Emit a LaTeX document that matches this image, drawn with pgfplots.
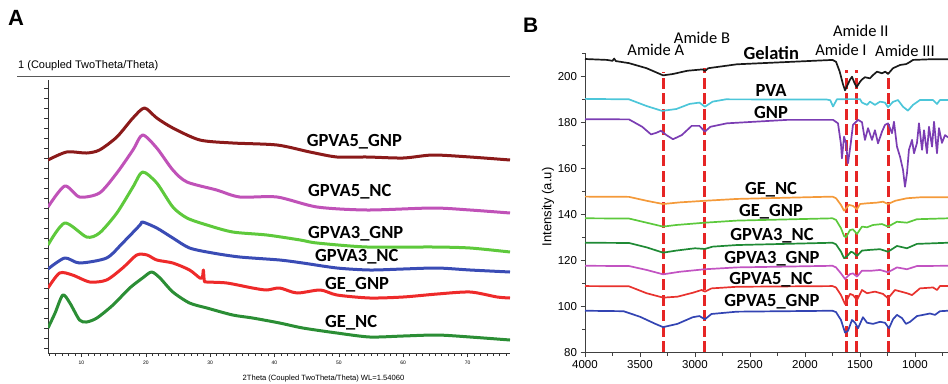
\documentclass[border=0pt]{standalone}
\usepackage{pgfplots}
\pgfplotsset{compat=1.18}
\usepackage{fontspec}
\setmainfont{Carlito}
\newfontfamily\arial{Liberation Sans}
\definecolor{aGvg}{HTML}{8B1A1A}
\definecolor{aGvn}{HTML}{C052B8}
\definecolor{aG3g}{HTML}{5EC93C}
\definecolor{aG3n}{HTML}{3A4CB5}
\definecolor{aGeg}{HTML}{EE2A2A}
\definecolor{aGen}{HTML}{2B8E35}
\definecolor{bgel}{HTML}{1A1A1A}
\definecolor{bpva}{HTML}{4CC6D9}
\definecolor{bgnp}{HTML}{7B3DB3}
\definecolor{bor}{HTML}{F49A3A}
\definecolor{blg}{HTML}{5CC93C}
\definecolor{bdg}{HTML}{1F8A35}
\definecolor{bmg}{HTML}{C253C2}
\definecolor{brd}{HTML}{E8322E}
\definecolor{bbl}{HTML}{3344B3}
\definecolor{dashred}{HTML}{E62525}
\begin{document}
\begin{tikzpicture}[x=1pt,y=1pt]
\useasboundingbox (0,0) rectangle (948,-383);
\coordinate (Asw) at (48,-353);
\coordinate (Bsw) at (585,-352.7);
% ---------------- Panel A ----------------
\node[anchor=base west, inner sep=0, font=\arial\bfseries\fontsize{22}{22}\selectfont] at (8,-25) {A};
\node[anchor=base west, inner sep=0, font=\arial\fontsize{11}{11}\selectfont] at (18,-68) {1 (Coupled TwoTheta/Theta)};
\draw[black!65, line width=0.9pt] (17,-76) -- (510,-76);
\begin{axis}[
  at={(Asw)}, anchor=south west,
  width=462pt, height=273pt, scale only axis,
  xmin=4.8, xmax=76.6, ymin=30, ymax=303,
  axis x line=bottom, axis y line=left,
  axis line style={-, line width=1pt, black!80},
  xtick={10,20,...,70}, minor xtick={5,6,...,76},
  ytick={35,45,...,295}, yticklabels={},
  tick align=outside, major tick length=4pt, minor tick length=2.5pt,
  tick style={black!80, line width=0.6pt},
  x tick label style={font=\arial\fontsize{5}{5}\selectfont},
  /pgf/number format/assume math mode=true,
  every axis plot/.append style={line width=3pt, line join=round, smooth, tension=0.45},
]
\addplot[aGvg] coordinates {(4.8,223) (7.7,231) (10.8,230) (12.8,233) (15.5,246) (18.0,265) (19.8,275) (21.7,265) (24.2,255) (28.4,243) (33.5,240) (40.4,238) (45.5,231) (49.7,226) (54.4,226) (60.0,225) (64.6,228) (70.4,226) (76.6,223)};
\addplot[aGvn] coordinates {(4.8,176) (7.4,197) (9.7,186) (12.8,190) (15.5,210) (18.0,233) (19.5,248) (21.7,235) (24.2,213) (26.4,201) (31.0,193) (34.6,186) (40.4,186) (46.6,176) (54.4,173) (64.6,175) (70.4,173) (76.6,170)};
\addplot[aG3g] coordinates {(4.8,138) (7.4,160) (10.8,146) (12.8,150) (15.5,170) (18.0,196) (19.5,211) (21.7,200) (24.2,176) (26.4,165) (29.5,158) (33.5,151) (38.8,148) (44.0,143) (46.6,140) (54.4,136) (64.6,136) (70.4,135) (76.6,131)};
\addplot[aG3n] coordinates {(4.8,114) (7.4,125) (9.7,120) (13.9,125) (16.4,140) (19.1,158) (19.5,161) (21.7,155) (24.2,145) (26.8,135) (30.4,130) (34.6,126) (40.8,123) (44.4,120) (49.7,115) (54.8,113) (60.0,114) (65.3,115) (70.4,113) (76.6,111)};
\addplot[aGeg] coordinates {(4.8,95) (6.6,110) (8.6,108) (11.3,101) (13.9,103) (16.4,115) (18.6,128) (20.2,128) (21.7,123) (24.2,120) (26.8,113) (28.4,105) (28.8,106) (28.95,113) (29.1,102) (29.5,101) (32.6,100) (36.6,95) (38.8,93) (40.8,95) (43.5,90) (47.1,93) (49.7,88) (54.8,85) (60.0,86) (65.3,89) (70.4,91) (74.6,86) (76.6,85)};
\addplot[aGen] coordinates {(4.8,55) (5.9,70) (7.1,88) (8.2,80) (9.7,63) (10.8,61) (12.4,65) (14.9,78) (17.5,95) (19.5,105) (20.9,111) (22.2,105) (24.2,91) (26.8,80) (29.5,75) (33.5,68) (36.6,65) (40.8,60) (44.4,55) (49.7,50) (54.8,46) (60.0,47) (65.3,48) (70.4,46) (76.6,43)};
\end{axis}
\begin{scope}[font=\bfseries\fontsize{18.5}{18.5}\selectfont]
\node[anchor=base west, inner sep=0] at (306.7,-146) {GPVA5\_GNP};
\node[anchor=base west, inner sep=0] at (308,-196.7) {GPVA5\_NC};
\node[anchor=base west, inner sep=0] at (308,-238.3) {GPVA3\_GNP};
\node[anchor=base west, inner sep=0] at (315,-261.7) {GPVA3\_NC};
\node[anchor=base west, inner sep=0] at (325,-289.3) {GE\_GNP};
\node[anchor=base west, inner sep=0] at (325,-327.3) {GE\_NC};
\end{scope}
\node[font=\arial\fontsize{7.6}{7.6}\selectfont, inner sep=0] at (323.5,-379) {2Theta (Coupled TwoTheta/Theta) WL=1.54060};
% ---------------- Panel B ----------------
\node[anchor=base west, inner sep=0, font=\arial\bfseries\fontsize{21}{21}\selectfont] at (523,-32) {B};
\begin{axis}[
  at={(Bsw)}, anchor=south west,
  width=363pt, height=299.7pt, scale only axis,
  xmin=700, xmax=4000, x dir=reverse, ymin=80, ymax=210,
  axis x line=bottom, axis y line=left,
  axis line style={-, line width=1pt, black!75},
  xtick={1000,1500,...,4000}, minor xtick={750,1250,...,3750},
  ytick={80,100,...,200}, minor ytick={90,110,...,210},
  tick align=outside, major tick length=4.5pt, minor tick length=3pt,
  tick style={black!75, line width=0.8pt},
  ticklabel style={font=\arial\fontsize{11.5}{12}\selectfont},
  /pgf/number format/assume math mode=true,
  /pgf/number format/1000 sep={},
  clip=false,
  every axis plot/.append style={line width=1.7pt, line join=round},
]
\addplot[dashred, line width=3pt, dash pattern=on 11pt off 4.5pt] coordinates {(3285,80.3) (3285,201.9)};
\addplot[dashred, line width=3pt, dash pattern=on 11pt off 4.5pt] coordinates {(2910,80.3) (2910,203.4)};
\addplot[dashred, line width=3pt, dash pattern=on 11pt off 4.5pt] coordinates {(1625,80.3) (1625,202.6)};
\addplot[dashred, line width=3pt, dash pattern=on 11pt off 4.5pt] coordinates {(1530,80.3) (1530,202.6)};
\addplot[dashred, line width=3pt, dash pattern=on 11pt off 4.5pt] coordinates {(1238,80.3) (1238,201.9)};
\addplot[bgel] coordinates {(4000,207.4) (3800,207.0) (3750,206.6) (3735,207.6) (3720,206.5) (3600,205.6) (3440,203.4) (3290,200.3) (3200,200.9) (3070,202.3) (2930,202.9) (2910,202.2) (2880,203.4) (2620,205.1) (2160,206.1) (1750,207.0) (1718,206.2) (1685,202.0) (1655,196.5) (1636,193.8) (1610,196.5) (1590,198.5) (1573,199.7) (1550,197.0) (1530,195.2) (1500,197.5) (1482,198.5) (1455,199.5) (1410,199.0) (1380,200.5) (1345,201.9) (1300,201.2) (1270,201.9) (1245,200.9) (1200,203.4) (1136,204.8) (1080,205.2) (1050,206.0) (1018,207.0) (850,207.3) (700,207.3)};
\addplot[bpva] coordinates {(4000,190.1) (3600,189.9) (3440,187.0) (3300,184.9) (3170,185.7) (3050,187.9) (2960,188.5) (2910,186.7) (2840,188.9) (2720,189.9) (1800,189.8) (1770,189.5) (1745,186.8) (1710,189.9) (1600,190.0) (1500,190.0) (1482,188.5) (1436,187.5) (1409,188.9) (1364,187.5) (1318,188.9) (1273,188.5) (1245,186.5) (1200,188.8) (1155,189.6) (1109,186.7) (1064,185.0) (1018,187.5) (955,189.6) (836,189.6) (800,187.9) (773,189.6) (700,189.6)};
\addplot[bgnp] coordinates {(4000,181.3) (3600,181.2) (3480,178.0) (3400,174.7) (3350,175.4) (3310,176.3) (3260,174.4) (3200,172.6) (3120,174.4) (3030,178.4) (2960,178.4) (2910,175.9) (2860,178.0) (2710,179.5) (2160,181.0) (1745,181.0) (1700,179.5) (1673,170.4) (1664,164.3) (1645,173.7) (1627,170.8) (1609,162.2) (1585,170.4) (1564,178.8) (1518,181.0) (1482,180.0) (1455,172.3) (1427,177.4) (1391,172.3) (1364,176.5) (1336,170.8) (1300,175.9) (1273,178.8) (1245,179.5) (1209,175.2) (1191,180.2) (1164,169.4) (1136,165.0) (1109,159.3) (1091,152.0) (1073,157.8) (1055,168.0) (1027,172.3) (1009,166.5) (982,171.0) (964,179.5) (936,168.0) (918,176.5) (891,166.5) (873,178.0) (845,169.4) (827,180.2) (800,166.5) (782,177.4) (755,171.0) (727,174.4) (700,173.4)};
\addplot[bor] coordinates {(4000,147.7) (3600,147.6) (3440,145.9) (3290,144.5) (3140,145.2) (2910,145.9) (2620,146.7) (1750,147.7) (1718,147.0) (1673,144.1) (1645,141.6) (1600,144.1) (1564,143.7) (1527,142.2) (1500,144.5) (1436,144.8) (1345,145.1) (1291,145.5) (1245,144.5) (1180,145.9) (1073,147.0) (955,147.4) (700,147.4)};
\addplot[blg] coordinates {(4000,138.3) (3600,138.2) (3440,136.4) (3290,134.7) (3170,135.4) (2910,136.4) (2620,137.3) (1750,138.3) (1718,137.6) (1673,134.0) (1645,130.6) (1627,130.1) (1591,133.2) (1564,133.5) (1527,131.5) (1482,134.7) (1436,134.4) (1382,135.4) (1300,135.8) (1245,134.7) (1164,136.8) (1073,136.4) (982,137.9) (700,138.3)};
\addplot[bdg] coordinates {(4000,127.7) (3600,127.6) (3440,125.7) (3290,123.4) (3170,124.3) (3000,125.3) (2910,125.0) (2840,126.0) (2620,126.7) (1750,127.7) (1718,127.0) (1673,123.8) (1645,121.0) (1620,121.7) (1582,123.8) (1564,123.5) (1527,122.0) (1482,124.3) (1409,124.6) (1318,124.9) (1245,123.8) (1164,126.3) (1073,125.3) (982,127.2) (700,127.7)};
\addplot[bmg] coordinates {(4000,117.7) (3600,117.6) (3440,115.9) (3290,114.0) (3140,115.1) (2910,116.2) (2620,117.0) (1750,117.7) (1718,117.0) (1673,114.4) (1636,112.0) (1591,114.1) (1564,114.4) (1527,113.0) (1482,115.6) (1409,115.5) (1318,115.9) (1245,114.9) (1164,117.0) (1073,116.2) (982,117.6) (700,117.7)};
\addplot[brd] coordinates {(4000,108.9) (3600,108.8) (3440,105.8) (3290,103.9) (3160,104.3) (3020,106.0) (2940,107.2) (2910,106.5) (2850,107.9) (2620,108.6) (1750,108.9) (1718,108.3) (1673,105.0) (1636,101.1) (1591,105.5) (1564,105.0) (1527,102.9) (1482,107.2) (1436,105.8) (1364,106.5) (1291,105.5) (1245,103.6) (1182,107.2) (1073,105.8) (1027,105.0) (955,107.9) (836,108.3) (800,107.2) (773,108.9) (700,108.9)};
\addplot[bbl] coordinates {(4000,98.2) (3650,98.0) (3500,95.6) (3360,92.5) (3290,91.1) (3160,92.5) (3020,95.4) (2960,95.9) (2910,94.5) (2850,96.8) (2620,97.8) (1750,98.2) (1718,97.6) (1673,94.2) (1636,88.7) (1609,89.5) (1573,94.2) (1545,93.0) (1518,90.6) (1473,95.4) (1436,93.0) (1382,92.5) (1318,93.4) (1273,93.0) (1236,90.6) (1200,94.5) (1164,96.4) (1118,95.0) (1082,92.5) (1045,93.4) (982,95.9) (927,96.4) (864,97.0) (818,96.4) (773,98.0) (700,98.2)};
\end{axis}
\node[rotate=90, inner sep=0, font=\arial\fontsize{13}{13}\selectfont] at (548,-207) {Intensity (a.u)};
\begin{scope}[font=\fontsize{16.5}{16.5}\selectfont]
\node[anchor=base, inner sep=0] at (655.8,-55) {Amide A};
\node[anchor=base, inner sep=0] at (702,-43.3) {Amide B};
\node[anchor=base, inner sep=0] at (860.8,-36) {Amide II};
\node[anchor=base, inner sep=0] at (841,-55) {Amide I};
\node[anchor=base, inner sep=0] at (905,-56.7) {Amide III};
\end{scope}
\begin{scope}[font=\bfseries\fontsize{18.5}{18.5}\selectfont]
\node[anchor=base, inner sep=0] at (771.3,-59.3) {Gelatin};
\node[anchor=base, inner sep=0] at (771,-96.7) {PVA};
\node[anchor=base, inner sep=0] at (771,-118.3) {GNP};
\node[anchor=base, inner sep=0] at (771,-194) {GE\_NC};
\node[anchor=base, inner sep=0] at (771,-216) {GE\_GNP};
\node[anchor=base, inner sep=0] at (772,-240.7) {GPVA3\_NC};
\node[anchor=base, inner sep=0] at (772,-263.3) {GPVA3\_GNP};
\node[anchor=base, inner sep=0] at (771,-284.3) {GPVA5\_NC};
\node[anchor=base, inner sep=0] at (772,-306.7) {GPVA5\_GNP};
\end{scope}
\end{tikzpicture}
\end{document}
